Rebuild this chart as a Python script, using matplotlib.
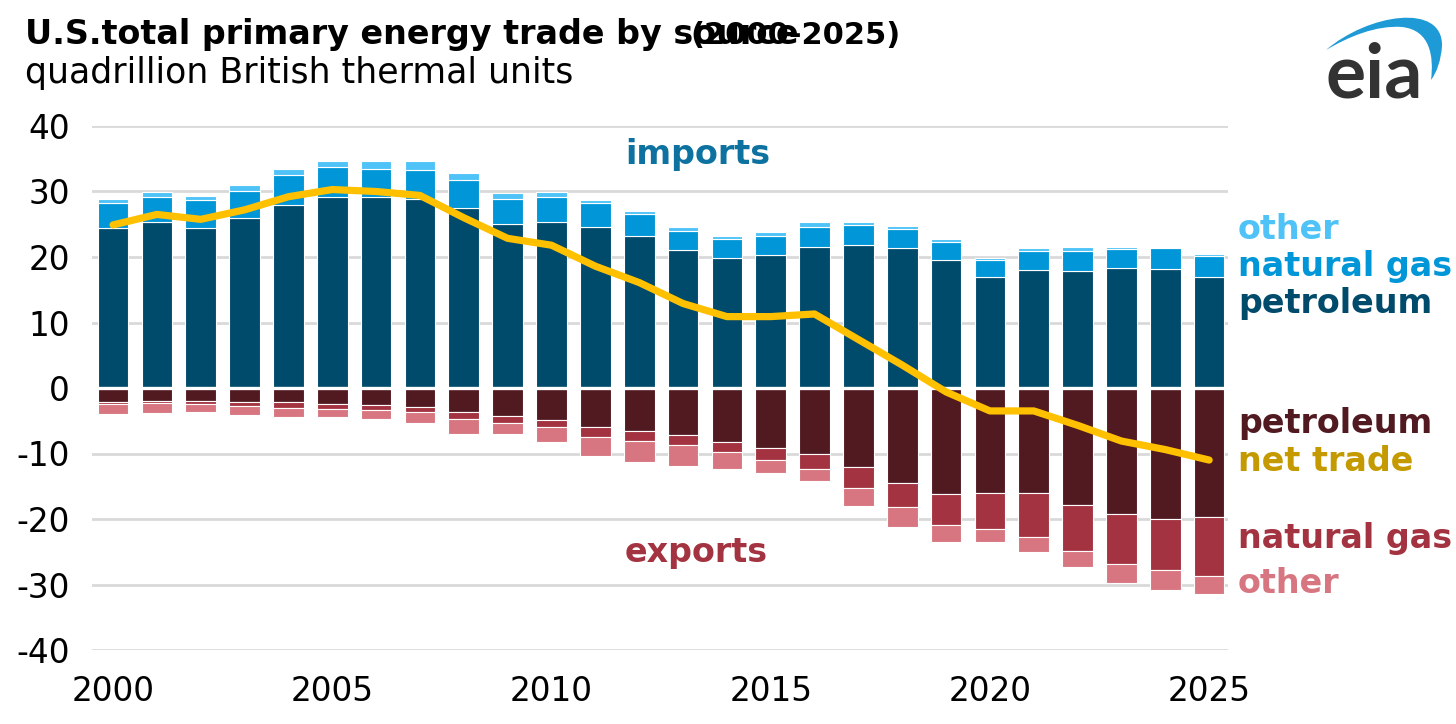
import matplotlib
matplotlib.use("Agg")
import matplotlib.pyplot as plt
from matplotlib.path import Path
from matplotlib.patches import PathPatch
import numpy as np

years = list(range(2000, 2026))

imp_petroleum = [24.4, 25.3, 24.5, 26.0, 28.0, 29.2, 29.1, 28.8, 27.5, 25.1, 25.3, 24.6, 23.25,
                 21.0, 19.9, 20.35, 21.6, 21.8, 21.4, 19.6, 16.9, 18.05, 17.9, 18.25, 18.1, 17.0]
imp_natgas = [3.9, 3.9, 4.15, 4.1, 4.5, 4.5, 4.3, 4.5, 4.2, 3.7, 3.9, 3.6, 3.25,
              3.0, 2.8, 2.8, 3.0, 3.1, 2.9, 2.75, 2.65, 2.9, 3.05, 3.0, 3.2, 3.2]
imp_other = [0.5, 0.7, 0.65, 0.9, 0.9, 1.0, 1.3, 1.4, 1.1, 0.9, 0.7, 0.55, 0.5,
             0.6, 0.45, 0.65, 0.7, 0.45, 0.5, 0.45, 0.3, 0.35, 0.55, 0.35, 0.3, 0.25]

exp_petroleum = [2.2, 2.0, 2.0, 2.2, 2.2, 2.4, 2.6, 2.9, 3.66, 4.3, 4.9, 6.0, 6.5,
                 7.2, 8.25, 9.2, 10.1, 12.05, 14.45, 16.2, 16.1, 16.1, 17.9, 19.3, 20.05, 19.7]
exp_natgas = [0.2, 0.35, 0.4, 0.6, 0.8, 0.8, 0.7, 0.76, 1.09, 1.0, 1.05, 1.5, 1.6,
              1.5, 1.55, 1.8, 2.3, 3.25, 3.75, 4.7, 5.4, 6.6, 7.0, 7.6, 7.75, 8.95]
exp_other = [1.6, 1.4, 1.2, 1.3, 1.4, 1.3, 1.5, 1.74, 2.25, 1.7, 2.25, 2.9, 3.2,
             3.2, 2.5, 2.0, 1.85, 2.7, 3.0, 2.55, 1.95, 2.4, 2.4, 2.8, 3.0, 2.85]

net_trade = [24.9, 26.5, 25.75, 27.2, 29.2, 30.3, 30.0, 29.4, 26.0, 22.85, 21.8, 18.6, 16.1,
             12.9, 10.9, 10.9, 11.3, 7.4, 3.5, -0.6, -3.5, -3.5, -5.7, -8.1, -9.4, -11.0]

x_ticks = [2000, 2005, 2010, 2015, 2020, 2025]
y_ticks = [40, 30, 20, 10, 0, -10, -20, -30, -40]

C_IMP_PET = "#004a6b"
C_IMP_NG = "#0096d7"
C_IMP_OTH = "#4fc3f7"
C_EXP_PET = "#511a21"
C_EXP_NG = "#a33340"
C_EXP_OTH = "#d77681"
C_LINE = "#ffc000"

W, H = 1456, 724
fig = plt.figure(figsize=(W / 200, H / 200), dpi=200)
ax = fig.add_axes([92 / W, 1 - 650 / H, (1228 - 92) / W, (650 - 126) / H])

x = np.array(years)
ip = np.array(imp_petroleum)
ing = np.array(imp_natgas)
io = np.array(imp_other)
ep = -np.array(exp_petroleum)
eng = -np.array(exp_natgas)
eo = -np.array(exp_other)

bw = 0.7
kw = dict(width=bw, edgecolor="white", linewidth=0.4, zorder=2)
ax.bar(x, ip, color=C_IMP_PET, **kw)
ax.bar(x, ing, bottom=ip, color=C_IMP_NG, **kw)
ax.bar(x, io, bottom=ip + ing, color=C_IMP_OTH, **kw)
ax.bar(x, ep, color=C_EXP_PET, **kw)
ax.bar(x, eng, bottom=ep, color=C_EXP_NG, **kw)
ax.bar(x, eo, bottom=ep + eng, color=C_EXP_OTH, **kw)

ax.axhline(0, color="white", lw=1.2, zorder=3)
ax.plot(x, net_trade, color=C_LINE, lw=2.6, solid_capstyle="round",
        solid_joinstyle="round", zorder=4)

ax.set_xlim(1999.52, 2025.43)
ax.set_ylim(-40, 40)
ax.set_yticks(y_ticks)
ax.set_yticklabels([str(v) for v in y_ticks])
ax.set_xticks(x_ticks)
ax.set_xticklabels([str(v) for v in x_ticks])
ax.tick_params(axis="both", length=0, labelsize=11.8, colors="black")
ax.tick_params(axis="y", pad=8)
ax.tick_params(axis="x", pad=9)
ax.grid(axis="y", color="#d9d9d9", lw=1.0, zorder=0)
ax.set_axisbelow(True)
for s in ax.spines.values():
    s.set_visible(False)


def fx(px):
    return px / W


def fy(py):
    return 1 - py / H


fig.text(fx(25), fy(44), "U.S.total primary energy trade by source", fontsize=12,
         fontweight="bold", va="baseline", ha="left")
fig.text(fx(690), fy(44), "(2000-2025)", fontsize=11, fontweight="bold",
         va="baseline", ha="left")
fig.text(fx(25), fy(83), "quadrillion British thermal units", fontsize=12.5,
         va="baseline", ha="left")

fig.text(fx(625), fy(164), "imports", fontsize=12, fontweight="bold", color="#0e72a0",
         va="baseline", ha="left")
fig.text(fx(625), fy(562), "exports", fontsize=12, fontweight="bold", color=C_EXP_NG,
         va="baseline", ha="left")

right_labels = [("other", C_IMP_OTH, 239), ("natural gas", C_IMP_NG, 276),
                ("petroleum", C_IMP_PET, 313), ("petroleum", C_EXP_PET, 433),
                ("net trade", "#c49a00", 471), ("natural gas", C_EXP_NG, 548),
                ("other", C_EXP_OTH, 593)]
for txt, col, yb in right_labels:
    fig.text(fx(1238), fy(yb), txt, fontsize=12, fontweight="bold", color=col,
             va="baseline", ha="left")

# EIA logo
pts = [(1326, 50), (1368, 14), (1443, 2), (1442, 46),
       (1441, 60), (1437, 72), (1431, 80),
       (1434, 56), (1430, 30), (1402, 27),
       (1376, 25), (1348, 37), (1326, 50)]
codes = [Path.MOVETO, Path.CURVE4, Path.CURVE4, Path.CURVE4,
         Path.CURVE4, Path.CURVE4, Path.CURVE4,
         Path.CURVE4, Path.CURVE4, Path.CURVE4,
         Path.CURVE4, Path.CURVE4, Path.CURVE4]
path = Path([(fx(a), fy(b)) for a, b in pts], codes)
fig.patches.append(PathPatch(path, facecolor="#1e9ad6", edgecolor="none",
                             transform=fig.transFigure))
fig.text(fx(1325), fy(97), "eia", fontsize=27, fontweight="bold", color="#333333",
         family="Lato", va="baseline", ha="left")

fig.savefig("out.png", dpi=200, facecolor="white")
